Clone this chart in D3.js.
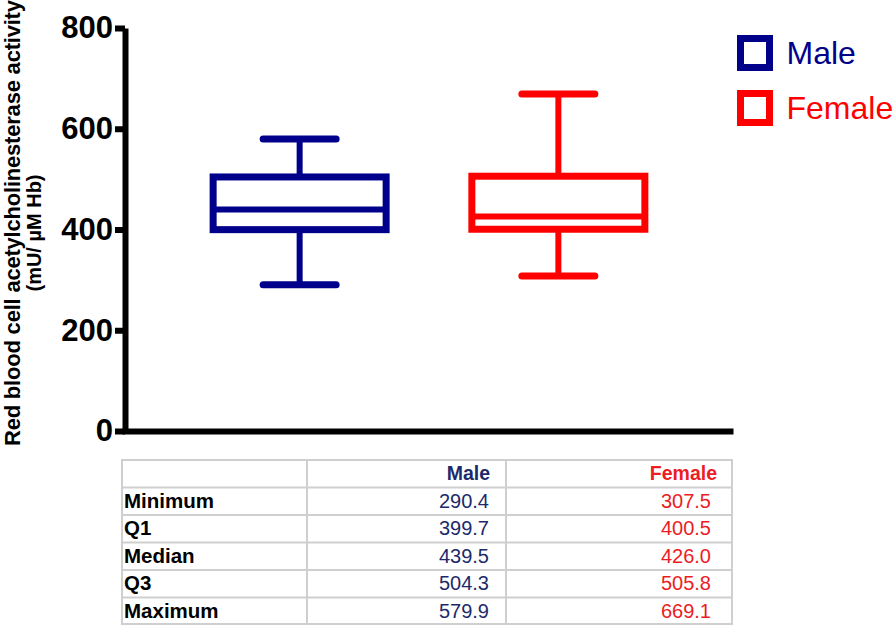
<!DOCTYPE html>
<html>
<head>
<meta charset="utf-8">
<script src="https://cdn.jsdelivr.net/npm/d3@7"></script>
<style>
body { margin: 0; background: #fff; }
text { font-family: "Liberation Sans", Arial, sans-serif; }
</style>
</head>
<body>
<script>
var width = 894;
var height = 625;

// data
var groups = ["Male", "Female"];
var minimum = [290.4, 307.5];
var q1 = [399.7, 400.5];
var median = [439.5, 426.0];
var q3 = [504.3, 505.8];
var maximum = [579.9, 669.1];
var yTicks = [0, 200, 400, 600, 800];
var rowLabels = ["Minimum", "Q1", "Median", "Q3", "Maximum"];
var colors = ["#00008b", "#ff0000"];
var textColors = ["#1c2a6b", "#ec1c24"];

var svg = d3.select("body").append("svg").attr("width", width).attr("height", height);

var x = d3.scalePoint().domain(groups).range([125, 733]).padding(0.675);
var y = d3.scaleLinear().domain([0, 800]).range([431, 28]);
var boxW = 180, capW = 73;

// y axis
var yAxis = svg.append("g")
    .attr("transform", "translate(125,0)")
    .call(d3.axisLeft(y).tickValues(yTicks).tickSize(10).tickSizeOuter(0).tickPadding(2));
yAxis.select(".domain").attr("stroke", "#000").attr("stroke-width", 6);
yAxis.selectAll(".tick line").attr("stroke", "#000").attr("stroke-width", 6);
yAxis.selectAll(".tick text")
    .attr("fill", "#000")
    .style("font-family", "Liberation Sans, Arial, sans-serif")
    .style("font-size", "31px")
    .style("font-weight", "bold");

// x axis
var xAxis = svg.append("g")
    .attr("transform", "translate(0,431)")
    .call(d3.axisBottom(d3.scaleLinear().range([122, 733])).tickValues([]).tickSizeOuter(0));
xAxis.select(".domain").attr("stroke", "#000").attr("stroke-width", 6);

// y title
svg.append("text")
    .attr("transform", "translate(20,223) rotate(-90)")
    .attr("text-anchor", "middle")
    .attr("textLength", 446)
    .style("font-size", "22px")
    .style("font-weight", "bold")
    .text("Red blood cell acetylcholinesterase activity");
svg.append("text")
    .attr("transform", "translate(41,233) rotate(-90)")
    .attr("text-anchor", "middle")
    .style("font-size", "20px")
    .style("font-weight", "bold")
    .text("(mU/ \u00b5M Hb)");

// boxes
var box = svg.append("g").selectAll("g")
    .data(groups)
    .enter().append("g")
    .attr("stroke", function (d, i) { return colors[i]; })
    .attr("fill", "none");

box.append("line")
    .attr("x1", function (d) { return x(d); })
    .attr("x2", function (d) { return x(d); })
    .attr("y1", function (d, i) { return y(q3[i]); })
    .attr("y2", function (d, i) { return y(maximum[i]); })
    .attr("stroke-width", 6);
box.append("line")
    .attr("x1", function (d) { return x(d); })
    .attr("x2", function (d) { return x(d); })
    .attr("y1", function (d, i) { return y(q1[i]); })
    .attr("y2", function (d, i) { return y(minimum[i]); })
    .attr("stroke-width", 6);
box.append("line")
    .attr("x1", function (d) { return x(d) - capW / 2; })
    .attr("x2", function (d) { return x(d) + capW / 2; })
    .attr("y1", function (d, i) { return y(maximum[i]); })
    .attr("y2", function (d, i) { return y(maximum[i]); })
    .attr("stroke-width", 7)
    .attr("stroke-linecap", "round");
box.append("line")
    .attr("x1", function (d) { return x(d) - capW / 2; })
    .attr("x2", function (d) { return x(d) + capW / 2; })
    .attr("y1", function (d, i) { return y(minimum[i]); })
    .attr("y2", function (d, i) { return y(minimum[i]); })
    .attr("stroke-width", 7)
    .attr("stroke-linecap", "round");
box.append("rect")
    .attr("x", function (d) { return x(d) - boxW / 2 + 3.5; })
    .attr("width", boxW - 7)
    .attr("y", function (d, i) { return y(q3[i]); })
    .attr("height", function (d, i) { return y(q1[i]) - y(q3[i]); })
    .attr("fill", "#fff")
    .attr("stroke-width", 7);
box.append("line")
    .attr("x1", function (d) { return x(d) - boxW / 2 + 3.5; })
    .attr("x2", function (d) { return x(d) + boxW / 2 - 3.5; })
    .attr("y1", function (d, i) { return y(median[i]); })
    .attr("y2", function (d, i) { return y(median[i]); })
    .attr("stroke-width", 6);

// legend
var legend = svg.append("g").selectAll("g")
    .data(groups)
    .enter().append("g")
    .attr("transform", function (d, i) { return "translate(740.5," + (38.5 + i * 55) + ")"; });
legend.append("rect")
    .attr("width", 29)
    .attr("height", 29)
    .attr("fill", "none")
    .attr("stroke", function (d, i) { return colors[i]; })
    .attr("stroke-width", 7);
legend.append("text")
    .attr("x", 46)
    .attr("y", 25)
    .attr("fill", function (d, i) { return colors[i]; })
    .style("font-size", "32px")
    .text(function (d) { return d; });

// table
var tLeft = 122, tRight = 732, tTop = 460, rowH = 27.5;
var colX = [tLeft, 307, 506, tRight];
var nRows = rowLabels.length + 1;
var table = svg.append("g");
table.append("rect")
    .attr("x", tLeft).attr("y", tTop)
    .attr("width", tRight - tLeft).attr("height", rowH * nRows - 1)
    .attr("fill", "none").attr("stroke", "#cfcfcf").attr("stroke-width", 2);
table.selectAll(".hline")
    .data(d3.range(1, nRows))
    .enter().append("line")
    .attr("x1", tLeft).attr("x2", tRight)
    .attr("y1", function (d) { return tTop + d * rowH; })
    .attr("y2", function (d) { return tTop + d * rowH; })
    .attr("stroke", "#cfcfcf").attr("stroke-width", 2);
table.selectAll(".vline")
    .data([colX[1], colX[2]])
    .enter().append("line")
    .attr("x1", function (d) { return d; }).attr("x2", function (d) { return d; })
    .attr("y1", tTop).attr("y2", tTop + rowH * nRows)
    .attr("stroke", "#cfcfcf").attr("stroke-width", 2);

var headRight = [490, 717];
var valRight = [489, 711];
var series = [minimum, q1, median, q3, maximum];

table.selectAll(".head")
    .data(groups)
    .enter().append("text")
    .attr("x", function (d, i) { return headRight[i]; })
    .attr("y", tTop + 20)
    .attr("text-anchor", "end")
    .attr("fill", function (d, i) { return textColors[i]; })
    .style("font-size", "19.5px")
    .style("font-weight", "bold")
    .text(function (d) { return d; });

table.selectAll(".rowlabel")
    .data(rowLabels)
    .enter().append("text")
    .attr("x", 124)
    .attr("y", function (d, i) { return tTop + (i + 1) * rowH + 20; })
    .style("font-size", "20.5px")
    .style("font-weight", "bold")
    .text(function (d) { return d; });

groups.forEach(function (g, j) {
    table.selectAll(".val" + j)
        .data(series)
        .enter().append("text")
        .attr("x", valRight[j])
        .attr("y", function (d, i) { return tTop + (i + 1) * rowH + 20; })
        .attr("text-anchor", "end")
        .attr("fill", textColors[j])
        .style("font-size", "20px")
        .text(function (d) { return d3.format(".1f")(d[j]); });
});
</script>
</body>
</html>
